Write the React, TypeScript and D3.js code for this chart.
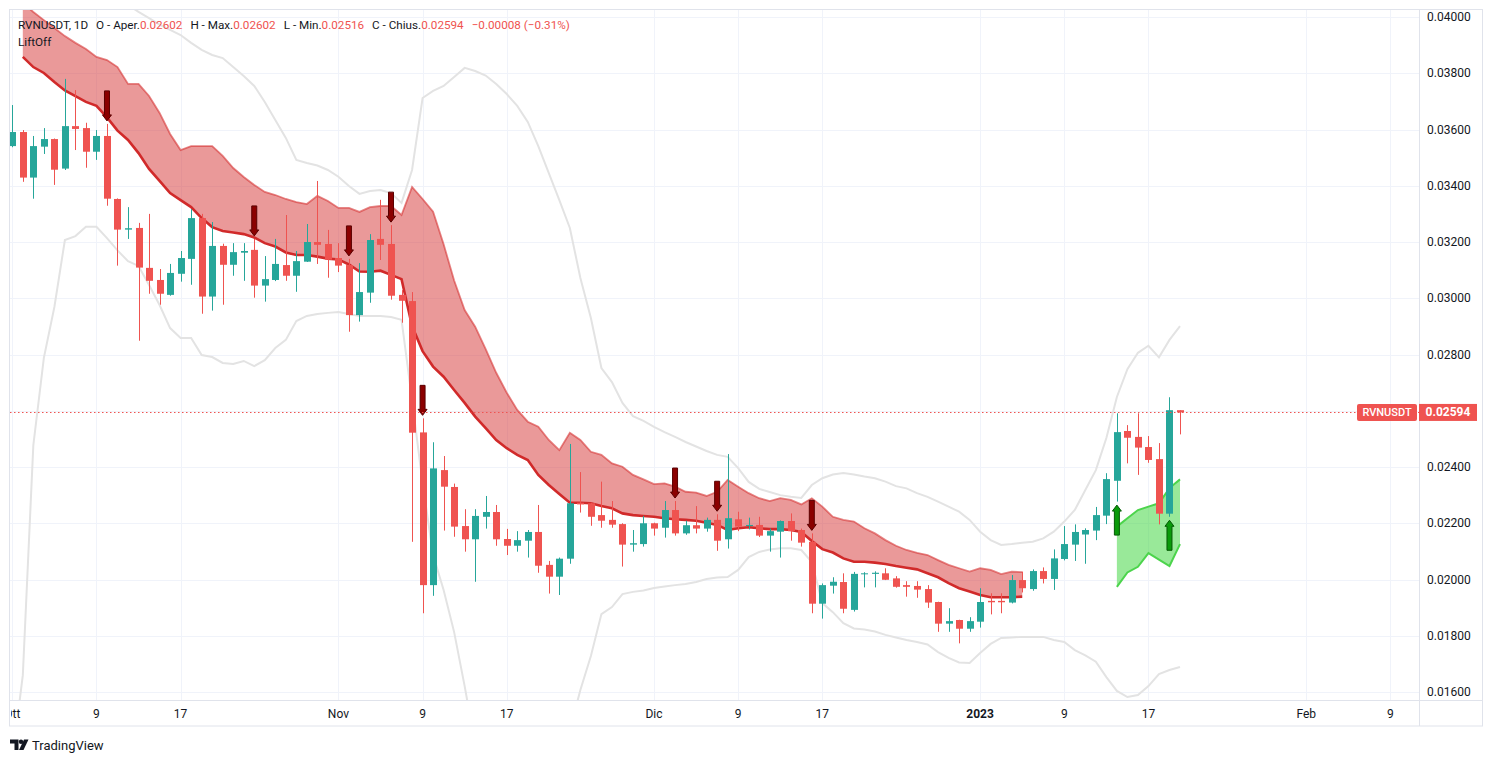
import React from 'react';
import * as d3 from 'd3';

// ---------- DATA ----------
const FIRST_DAY = '2022-10-01'; // daily candles, one per day from this date
const opens = [0.03541,0.03591,0.03429,0.03539,0.03566,0.03461,0.03612,0.03605,0.03521,0.03577,0.03353,0.03244,0.03250,0.03108,0.03065,0.03012,0.03087,0.03140,0.03285,0.03006,0.03186,0.03119,0.03162,0.03172,0.03045,0.03065,0.03118,0.03080,0.03130,0.03200,0.03193,0.03143,0.03118,0.02940,0.03020,0.03211,0.03193,0.03012,0.02990,0.02523,0.01980,0.02389,0.02329,0.02190,0.02143,0.02223,0.02240,0.02144,0.02120,0.02138,0.02169,0.02052,0.02010,0.02074,0.02273,0.02271,0.02229,0.02212,0.02197,0.02124,0.02126,0.02200,0.02184,0.02247,0.02164,0.02193,0.02181,0.02212,0.02143,0.02214,0.02190,0.02194,0.02156,0.02170,0.02208,0.02176,0.02134,0.01914,0.01978,0.01991,0.01892,0.02020,0.02020,0.02022,0.02004,0.01980,0.01977,0.01966,0.01920,0.01843,0.01856,0.01825,0.01850,0.01924,0.01924,0.01918,0.01998,0.01966,0.02030,0.02002,0.02073,0.02124,0.02160,0.02174,0.02227,0.02351,0.02528,0.02507,0.02471,0.02428,0.02234,0.02602];
const highs = [0.03687,0.03598,0.03577,0.03605,0.03568,0.03780,0.03740,0.03624,0.03598,0.03620,0.03355,0.03324,0.03268,0.03300,0.03104,0.03122,0.03168,0.03317,0.03300,0.03271,0.03194,0.03196,0.03196,0.03211,0.03150,0.03211,0.03296,0.03168,0.03264,0.03417,0.03243,0.03196,0.03140,0.03125,0.03228,0.03350,0.03260,0.03029,0.03022,0.02573,0.02488,0.02439,0.02341,0.02250,0.02250,0.02297,0.02265,0.02180,0.02172,0.02176,0.02265,0.02066,0.02078,0.02482,0.02382,0.02273,0.02348,0.02279,0.02200,0.02176,0.02226,0.02202,0.02279,0.02279,0.02209,0.02261,0.02220,0.02232,0.02446,0.02241,0.02220,0.02223,0.02181,0.02210,0.02235,0.02181,0.02164,0.01986,0.02008,0.02022,0.02027,0.02026,0.02029,0.02040,0.02012,0.01994,0.01994,0.01980,0.01921,0.01898,0.01857,0.01866,0.01969,0.01951,0.01951,0.02016,0.02028,0.02036,0.02043,0.02107,0.02190,0.02196,0.02182,0.02258,0.02378,0.02591,0.02549,0.02591,0.02510,0.02485,0.02648,0.02602];
const lows = [0.03537,0.03414,0.03354,0.03513,0.03403,0.03456,0.03527,0.03464,0.03492,0.03329,0.03116,0.03211,0.02849,0.03016,0.02977,0.03009,0.03059,0.03048,0.02945,0.02956,0.02977,0.03080,0.03062,0.03002,0.02988,0.03061,0.03062,0.03023,0.03129,0.03122,0.03073,0.03093,0.02881,0.02917,0.02984,0.03136,0.02995,0.02913,0.02134,0.01880,0.01942,0.02174,0.02152,0.02099,0.01992,0.02181,0.02120,0.02087,0.02099,0.02078,0.02024,0.01950,0.01945,0.02056,0.02238,0.02191,0.02184,0.02184,0.02046,0.02099,0.02117,0.02156,0.02149,0.02156,0.02159,0.02164,0.02170,0.02102,0.02110,0.02172,0.02178,0.02151,0.02099,0.02078,0.02138,0.02117,0.01880,0.01861,0.01950,0.01880,0.01886,0.01972,0.01972,0.01998,0.01971,0.01939,0.01935,0.01899,0.01814,0.01814,0.01773,0.01814,0.01829,0.01876,0.01880,0.01915,0.01954,0.01960,0.01986,0.01963,0.02068,0.02066,0.02056,0.02140,0.02197,0.02277,0.02413,0.02372,0.02415,0.02196,0.02223,0.02516];
const closes = [0.03591,0.03429,0.03541,0.03566,0.03457,0.03612,0.03602,0.03521,0.03577,0.03354,0.03244,0.03249,0.03109,0.03062,0.03016,0.03090,0.03143,0.03285,0.03006,0.03186,0.03119,0.03164,0.03168,0.03045,0.03068,0.03122,0.03080,0.03132,0.03200,0.03190,0.03137,0.03116,0.02940,0.03022,0.03207,0.03190,0.03009,0.02991,0.02522,0.01980,0.02395,0.02330,0.02188,0.02143,0.02226,0.02240,0.02143,0.02120,0.02140,0.02169,0.02049,0.02010,0.02074,0.02271,0.02267,0.02223,0.02209,0.02195,0.02124,0.02129,0.02200,0.02181,0.02247,0.02164,0.02193,0.02181,0.02212,0.02138,0.02218,0.02188,0.02194,0.02156,0.02172,0.02208,0.02172,0.02131,0.01914,0.01980,0.01992,0.01896,0.02020,0.02022,0.02024,0.01999,0.01974,0.01974,0.01964,0.01918,0.01843,0.01852,0.01825,0.01852,0.01920,0.01919,0.01919,0.01998,0.01969,0.02030,0.02002,0.02075,0.02126,0.02169,0.02176,0.02229,0.02357,0.02524,0.02504,0.02469,0.02425,0.02234,0.02602,0.02594];

// LiftOff red cloud (bars 1..96)
const CLOUD_FIRST = 1;
const cloudTop = [0.04050,0.04018,0.03989,0.03961,0.03932,0.03908,0.03886,0.03858,0.03847,0.03822,0.03762,0.03762,0.03719,0.03659,0.03584,0.03527,0.03541,0.03541,0.03541,0.03506,0.03463,0.03431,0.03403,0.03378,0.03367,0.03353,0.03342,0.03335,0.03364,0.03346,0.03321,0.03321,0.03307,0.03324,0.03328,0.03328,0.03296,0.03396,0.03353,0.03308,0.03192,0.03063,0.02958,0.02899,0.02819,0.02735,0.02664,0.02603,0.02561,0.02543,0.02496,0.02460,0.02522,0.02496,0.02454,0.02443,0.02413,0.02401,0.02372,0.02356,0.02339,0.02342,0.02330,0.02312,0.02309,0.02297,0.02312,0.02354,0.02330,0.02307,0.02289,0.02279,0.02289,0.02283,0.02267,0.02289,0.02259,0.02223,0.02212,0.02206,0.02182,0.02164,0.02140,0.02120,0.02105,0.02095,0.02087,0.02069,0.02052,0.02040,0.02028,0.02040,0.02034,0.02019,0.02028,0.02026];
const cloudBottom = [0.03858,0.03822,0.03801,0.03769,0.03739,0.03719,0.03698,0.03684,0.03643,0.03596,0.03563,0.03516,0.03460,0.03417,0.03374,0.03349,0.03324,0.03285,0.03253,0.03239,0.03234,0.03228,0.03216,0.03196,0.03184,0.03163,0.03154,0.03154,0.03148,0.03141,0.03138,0.03120,0.03095,0.03094,0.03098,0.03083,0.03068,0.02901,0.02812,0.02757,0.02721,0.02674,0.02628,0.02579,0.02538,0.02496,0.02467,0.02443,0.02425,0.02372,0.02336,0.02304,0.02273,0.02273,0.02271,0.02261,0.02253,0.02235,0.02229,0.02226,0.02223,0.02218,0.02214,0.02212,0.02209,0.02202,0.02194,0.02176,0.02182,0.02186,0.02182,0.02179,0.02179,0.02176,0.02169,0.02137,0.02108,0.02096,0.02075,0.02063,0.02063,0.02060,0.02055,0.02048,0.02042,0.02036,0.02022,0.02008,0.01987,0.01969,0.01957,0.01945,0.01937,0.01937,0.01937,0.01939];

// LiftOff green cloud (bars 105..111)
const GREEN_FIRST = 105;
const greenTop = [0.02188,0.02218,0.02247,0.02259,0.02271,0.02325,0.02356];
const greenBottom = [0.01974,0.02025,0.02045,0.02094,0.02071,0.02048,0.02126];

// envelope (grey) lines
const UPPER_FIRST = 11;
const envUpper = [0.04043,0.04018,0.03996,0.03973,0.03954,0.03936,0.03908,0.03883,0.03865,0.03854,0.03822,0.03790,0.03755,0.03698,0.03634,0.03570,0.03492,0.03481,0.03472,0.03456,0.03432,0.03399,0.03371,0.03381,0.03385,0.03374,0.03339,0.03456,0.03712,0.03737,0.03755,0.03787,0.03819,0.03808,0.03792,0.03762,0.03726,0.03684,0.03627,0.03541,0.03445,0.03349,0.03250,0.03072,0.02930,0.02752,0.02702,0.02628,0.02581,0.02564,0.02543,0.02524,0.02507,0.02489,0.02473,0.02457,0.02443,0.02436,0.02396,0.02347,0.02322,0.02311,0.02300,0.02294,0.02290,0.02336,0.02360,0.02373,0.02379,0.02373,0.02366,0.02360,0.02348,0.02332,0.02324,0.02307,0.02294,0.02277,0.02259,0.02241,0.02212,0.02170,0.02140,0.02123,0.02126,0.02131,0.02134,0.02146,0.02170,0.02206,0.02247,0.02318,0.02389,0.02503,0.02649,0.02748,0.02806,0.02831,0.02790,0.02852,0.02901];
const envLower = [0.01358,0.01660,0.02478,0.02788,0.02969,0.03207,0.03221,0.03254,0.03254,0.03214,0.03170,0.03132,0.03115,0.03047,0.02976,0.02894,0.02859,0.02859,0.02798,0.02791,0.02770,0.02766,0.02777,0.02759,0.02780,0.02823,0.02852,0.02919,0.02937,0.02944,0.02948,0.02951,0.02944,0.02937,0.02937,0.02937,0.02933,0.02923,0.02638,0.02343,0.02087,0.01963,0.01813,0.01621,0.01412,0.01252,0.01145,0.01074,0.01038,0.01038,0.01074,0.01163,0.01305,0.01465,0.01607,0.01728,0.01877,0.01902,0.01948,0.01956,0.01961,0.01970,0.01975,0.01980,0.01984,0.01991,0.02002,0.02007,0.02009,0.02034,0.02080,0.02098,0.02107,0.02111,0.02111,0.02105,0.02062,0.01916,0.01884,0.01845,0.01826,0.01822,0.01815,0.01803,0.01794,0.01785,0.01778,0.01769,0.01742,0.01721,0.01705,0.01703,0.01739,0.01771,0.01792,0.01794,0.01796,0.01796,0.01796,0.01785,0.01778,0.01749,0.01730,0.01708,0.01653,0.01604,0.01582,0.01589,0.01621,0.01664,0.01678,0.01689];

const sellSignals = [9, 23, 32, 36, 39, 63, 67, 76];
const buySignals = [105, 110];

const priceTicks = [0.016, 0.018, 0.020, 0.022, 0.024, 0.026, 0.028, 0.030, 0.032, 0.034, 0.036, 0.038, 0.040];
const timeTickDates = ['2022-10-01','2022-10-09','2022-10-17','2022-11-01','2022-11-09','2022-11-17','2022-12-01','2022-12-09','2022-12-17','2023-01-01','2023-01-09','2023-01-17','2023-02-01','2023-02-09'];
const timeTickLabels = ['Ott','9','17','Nov','9','17','Dic','9','17','2023','9','17','Feb','9'];

const SYMBOL = 'RVNUSDT';
const LAST_PRICE = 0.02594;

// ---------- LAYOUT ----------
const W = 1493, H = 762;
const PL = 10, PR = 1419, PT = 10, PB = 700;
const FONT = 'Roboto, "Liberation Sans", sans-serif';
const UP = '#26a69a', DOWN = '#ef5350';

const parse = d3.utcParse('%Y-%m-%d');
const first = parse(FIRST_DAY) as Date;
const dayOf = (i: number) => d3.utcDay.offset(first, i);

const x = d3.scaleUtc()
  .domain([parse('2022-10-01') as Date, parse('2023-02-09') as Date])
  .range([12.3, 1390.4]);
const y = d3.scaleLinear().domain([0.016, 0.04]).range([692, 17]);

const fmt = d3.format('.5f');

export default function App() {
  const bars = opens.map((o, i) => ({ i, d: dayOf(i), o, h: highs[i], l: lows[i], c: closes[i] }));

  const cloud = cloudTop.map((t, k) => ({ i: k + CLOUD_FIRST, t, b: cloudBottom[k] }));
  const green = greenTop.map((t, k) => ({ i: k + GREEN_FIRST, t, b: greenBottom[k] }));

  const area = d3.area<{ i: number; t: number; b: number }>()
    .x(p => x(dayOf(p.i))).y0(p => y(p.b)).y1(p => y(p.t));
  const lineT = d3.line<{ i: number; t: number; b: number }>().x(p => x(dayOf(p.i))).y(p => y(p.t));
  const lineB = d3.line<{ i: number; t: number; b: number }>().x(p => x(dayOf(p.i))).y(p => y(p.b));
  const envLine = d3.line<[number, number]>().x(p => x(dayOf(p[0]))).y(p => y(p[1]));

  const upperPts: [number, number][] = envUpper.map((v, k) => [k + UPPER_FIRST, v]);
  const lowerPts: [number, number][] = envLower.map((v, k) => [k, v]);

  const bodyW = 7;

  const downArrow = (i: number) => {
    const cx = x(dayOf(i));
    const tip = y(highs[i]) - 3;
    const top = tip - 30;
    return `M${cx - 2.5},${top} H${cx + 2.5} V${tip - 6} H${cx + 4.5} L${cx},${tip} L${cx - 4.5},${tip - 6} H${cx - 2.5} Z`;
  };
  const upArrow = (i: number) => {
    const cx = x(dayOf(i));
    const tip = y(lows[i]) + 3.5;
    const bot = tip + 30;
    return `M${cx - 2.5},${bot} H${cx + 2.5} V${tip + 6} H${cx + 4.5} L${cx},${tip} L${cx - 4.5},${tip + 6} H${cx - 2.5} Z`;
  };

  const priceY = y(LAST_PRICE);

  return (
    <svg width={W} height={H} style={{ position: 'absolute', left: 0, top: 0, background: '#fff' }} fontFamily={FONT}>
      <defs>
        <clipPath id="plot"><rect x={PL} y={PT} width={PR - PL} height={PB - PT} /></clipPath>
        <clipPath id="taxis"><rect x={11} y={PB} width={PR - 11} height={26} /></clipPath>
      </defs>
      <rect x={0} y={0} width={W} height={H} fill="#fff" />

      {/* grid */}
      <g stroke="#f0f3fa" strokeWidth={1}>
        {priceTicks.map(v => <line key={'h' + v} x1={PL} x2={PR} y1={Math.round(y(v)) + 0.5} y2={Math.round(y(v)) + 0.5} />)}
        {timeTickDates.map(s => {
          const xx = Math.round(x(parse(s) as Date)) + 0.5;
          return <line key={'v' + s} x1={xx} x2={xx} y1={PT} y2={PB} />;
        })}
      </g>

      <g clipPath="url(#plot)">
        {/* envelope */}
        <path d={envLine(upperPts) || ''} fill="none" stroke="#e3e3e3" strokeWidth={2} />
        <path d={envLine(lowerPts) || ''} fill="none" stroke="#e3e3e3" strokeWidth={2} />

        {/* red cloud */}
        <path d={area(cloud) || ''} fill="rgba(214,52,52,0.5)" />
        <path d={lineT(cloud) || ''} fill="none" stroke="rgba(214,52,52,0.6)" strokeWidth={1.8} />
        <path d={lineB(cloud) || ''} fill="none" stroke="#d12a2a" strokeWidth={2.6} />

        {/* green cloud */}
        <path d={area(green) || ''} fill="rgba(60,212,60,0.52)" />
        <path d={lineT(green) || ''} fill="none" stroke="#4cd44c" strokeWidth={2} />
        <path d={lineB(green) || ''} fill="none" stroke="#4cd44c" strokeWidth={2} />

        {/* candles */}
        {bars.map(b => {
          const cx = Math.round(x(b.d));
          const col = b.c >= b.o ? UP : DOWN;
          const yt = y(Math.max(b.o, b.c));
          const yb = y(Math.min(b.o, b.c));
          return (
            <g key={b.i}>
              <line x1={cx + 0.5} x2={cx + 0.5} y1={y(b.h)} y2={y(b.l)} stroke={col} strokeWidth={1} />
              <rect x={cx - 3} y={yt} width={bodyW} height={Math.max(1, yb - yt)} fill={col} />
            </g>
          );
        })}

        {/* signals */}
        {sellSignals.map(i => <path key={'s' + i} d={downArrow(i)} fill="#8b0000" stroke="#5a0000" strokeWidth={1} />)}
        {buySignals.map(i => <path key={'b' + i} d={upArrow(i)} fill="#0a9a0a" stroke="#045a04" strokeWidth={1} />)}

        {/* last price line */}
        <line x1={PL} x2={PR} y1={Math.round(priceY) + 0.5} y2={Math.round(priceY) + 0.5} stroke={DOWN} strokeWidth={1} strokeDasharray="1.5 2.5" />
      </g>

      {/* frame */}
      <rect x={9.5} y={9.5} width={1473} height={716.5} fill="none" stroke="#e0e3eb" strokeWidth={1} />
      <line x1={PR + 0.5} x2={PR + 0.5} y1={PT} y2={726} stroke="#e0e3eb" />
      <line x1={PL} x2={1483} y1={PB + 0.5} y2={PB + 0.5} stroke="#e0e3eb" />

      {/* price axis */}
      <g fontSize={12} fill="#131722">
        {priceTicks.map(v => <text key={'t' + v} x={1427} y={y(v) + 4}>{fmt(v)}</text>)}
      </g>

      {/* time axis */}
      <g clipPath="url(#taxis)" fontSize={12} fill="#131722" textAnchor="middle">
        {timeTickDates.map((s, k) => (
          <text key={'x' + s} x={x(parse(s) as Date)} y={718} fontWeight={timeTickLabels[k] === '2023' ? 700 : 400}>{timeTickLabels[k]}</text>
        ))}
      </g>

      {/* last price labels */}
      <rect x={1357} y={priceY - 8.5} width={60} height={17} rx={2} fill={DOWN} />
      <text x={1387} y={priceY + 4} textAnchor="middle" fontSize={11} fill="#fff" fontWeight={500}>{SYMBOL}</text>
      <rect x={1419} y={priceY - 8.5} width={58} height={17} fill={DOWN} />
      <text x={1448} y={priceY + 4} textAnchor="middle" fontSize={12} fill="#fff" fontWeight={700}>{fmt(LAST_PRICE)}</text>

      {/* legend */}
      <text x={18} y={29} fontSize={11.7} fill="#131722">
        <tspan>{SYMBOL}, 1D</tspan>
        <tspan dx={8}>O - Aper.</tspan><tspan fill={DOWN}>{fmt(opens[opens.length - 1])}</tspan>
        <tspan dx={8}>H - Max.</tspan><tspan fill={DOWN}>{fmt(highs[highs.length - 1])}</tspan>
        <tspan dx={8}>L - Min.</tspan><tspan fill={DOWN}>{fmt(lows[lows.length - 1])}</tspan>
        <tspan dx={8}>C - Chius.</tspan><tspan fill={DOWN}>{fmt(closes[closes.length - 1])}</tspan>
        <tspan dx={8} fill={DOWN}>−0.00008 (−0.31%)</tspan>
      </text>
      <text x={18} y={45.5} fontSize={11.7} fill="#131722">LiftOff</text>

      {/* TradingView logo */}
      <g fill="#131722">
        <path d="M10,739.5 H18.5 V750 H14.5 V743.5 H10 Z" />
        <circle cx={21} cy={741.8} r={2.2} />
        <path d="M24,739.5 H28.5 L23.5,750 H19 Z" />
        <text x={32} y={749.5} fontSize={13} fontWeight={400}>TradingView</text>
      </g>
    </svg>
  );
}
